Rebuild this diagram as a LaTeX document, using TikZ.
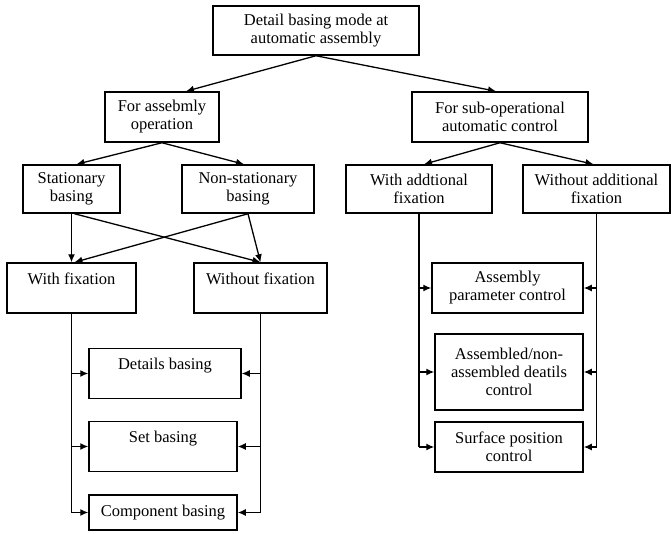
\documentclass[tikz,border=0pt]{standalone}
\usepackage{fontspec}
\setmainfont{Liberation Serif}
\usetikzlibrary{arrows.meta}

\tikzset{
  box/.style={draw, line width=1.5pt, align=center, inner sep=2pt, font=\fontsize{16.5}{18}\selectfont},
  topbox/.style={box, inner ysep=4pt, text height=17pt, text depth=25pt},
  arr/.style={-{Latex[length=8pt,width=7pt]}, line width=1.3pt},
  bus/.style={line width=1.3pt},
}

\begin{document}
\begin{tikzpicture}[x=1pt,y=-1pt]
\useasboundingbox (0,0) rectangle (671,533);
% root and first split
\node[box, minimum width=206, minimum height=49] (mode) at (316,30.5) {Detail basing mode at\\automatic assembly};
\node[box, minimum width=114, minimum height=50] (asm) at (162,117) {For assebmly\\operation};
\node[box, minimum width=176, minimum height=50] (sub) at (500,117) {For sub-operational\\automatic control};
% second split
\node[box, minimum width=97, minimum height=48] (stat) at (71.5,189) {Stationary\\basing};
\node[box, minimum width=132, minimum height=48] (nonst) at (248,189) {Non-stationary\\basing};
\node[box, minimum width=146, minimum height=48] (wadd) at (419,189) {With addtional\\fixation};
\node[box, minimum width=147, minimum height=48] (woadd) at (596.5,189) {Without additional\\fixation};
% fixation boxes
\node[topbox, minimum width=129] (wf) at (71.5,288) {With fixation};
\node[topbox, minimum width=133] (wof) at (260.5,288) {Without fixation};
% basing kinds
\node[topbox, minimum width=152] (db) at (165,373.5) {Details basing};
\node[topbox, minimum width=148] (sb) at (163,446.5) {Set basing};
\node[box, minimum width=148, minimum height=35] (cb) at (163,512.5) {Component basing};
% control kinds
\node[box, minimum width=151, minimum height=50] (apc) at (507.5,288) {Assembly\\parameter control};
\node[box, minimum width=148, minimum height=76] (ac) at (509,372) {Assembled/non-\\assembled deatils\\control};
\node[box, minimum width=148, minimum height=50] (spc) at (509,447) {Surface position\\control};

\draw[arr] (mode.south) -- ([xshift=24pt]asm.north);
\draw[arr] (mode.south) -- ([xshift=-4pt]sub.north);
\draw[arr] (asm.south) -- ([xshift=5pt]stat.north);
\draw[arr] (asm.south) -- ([xshift=-4pt]nonst.north);
\draw[arr] (sub.south) -- ([xshift=5pt]wadd.north);
\draw[arr] (sub.south) -- ([xshift=-3pt]woadd.north);

\draw[arr] (stat.south) -- (wf.north);
\draw[arr] ([xshift=3pt]stat.south) -- (wof.north);
\draw[arr] (nonst.south) -- ([xshift=3pt]wf.north);
\draw[arr] (nonst.south) -- (wof.north);

% buses
\draw[bus] (wf.south) -- (wf.south |- cb.west);
\draw[bus] (wof.south) -- (wof.south |- cb.east);
\foreach \n in {db,sb,cb} {
  \draw[arr] (wf.south |- \n.west) -- (\n.west);
  \draw[arr] (wof.south |- \n.east) -- (\n.east);
}
\draw[bus] (wadd.south) -- (wadd.south |- spc.west);
\draw[bus] (woadd.south) -- (woadd.south |- spc.east);
\foreach \n in {apc,ac,spc} {
  \draw[arr] (wadd.south |- \n.west) -- (\n.west);
  \draw[arr] (woadd.south |- \n.east) -- (\n.east);
}
\end{tikzpicture}
\end{document}
